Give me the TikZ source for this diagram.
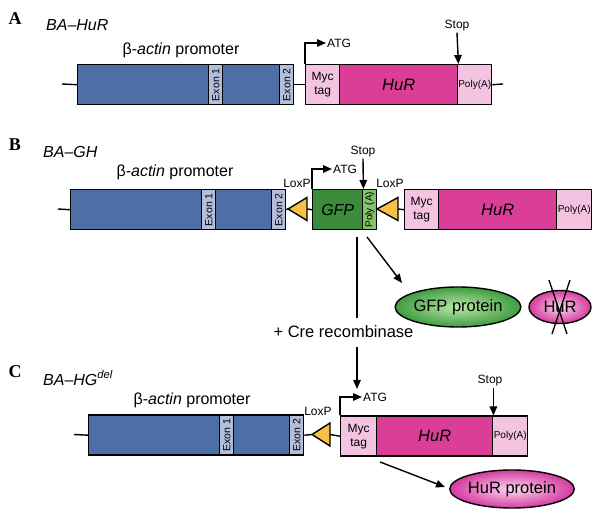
\documentclass[tikz,border=0pt]{standalone}
\usepackage{fontspec}
\setmainfont{Liberation Sans}
\newfontfamily\panelfont{Liberation Serif}
\usetikzlibrary{arrows.meta,shapes.geometric}
\definecolor{promblue}{HTML}{4E6EA6}
\definecolor{exongray}{HTML}{B3BFDA}
\definecolor{pinklight}{HTML}{F5C3E2}
\definecolor{hurmag}{HTML}{DB3E97}
\definecolor{gfpdark}{HTML}{3A8B3A}
\definecolor{gfplight}{HTML}{84C16B}
\definecolor{loxyellow}{HTML}{F7BF45}
\definecolor{gfpin}{HTML}{B8E8A8}
\definecolor{gfpout}{HTML}{3F9C3F}
\definecolor{hurin}{HTML}{FBD8F1}
\definecolor{hurout}{HTML}{D43A9E}
\begin{document}
\begin{tikzpicture}[x=1pt,y=-1pt,
  box/.style={draw, line width=1.4pt, inner sep=0pt, anchor=north west, minimum height=40pt},
  prom/.style={box, fill=promblue},
  exonbox/.style={box, fill=exongray, minimum width=14pt},
  myc/.style={box, fill=pinklight, minimum width=34pt, align=center, font=\fontsize{12}{14}\selectfont},
  hur/.style={box, fill=hurmag, font=\fontsize{16.5}{18}\selectfont\itshape},
  polya/.style={box, fill=pinklight, minimum width=34pt, font=\fontsize{10}{11}\selectfont},
  gfpbox/.style={box, fill=gfpdark, minimum width=50pt, font=\fontsize{16}{18}\selectfont\itshape},
  gfppoly/.style={box, fill=gfplight, minimum width=14pt},
  vtext/.style={rotate=90, inner sep=0pt, font=\fontsize{10.5}{12}\selectfont},
  conn/.style={line width=1.4pt},
  lox/.style={draw, line width=1.4pt, fill=loxyellow, line join=miter},
  arr/.style={line width=1.4pt, -{Triangle[length=9pt,width=7.5pt]}},
  small/.style={inner sep=1pt, font=\fontsize{12}{14}\selectfont},
  promlabel/.style={inner sep=0pt, font=\fontsize{16}{19}\selectfont},
  construct/.style={inner sep=0pt, anchor=west, font=\fontsize{16}{19}\selectfont\itshape},
  panel/.style={inner sep=0pt, font=\fontsize{18}{20}\selectfont\panelfont\bfseries},
  protein/.style={ellipse, draw, line width=1.4pt, inner sep=0pt, font=\fontsize{16.5}{19}\selectfont}
]
\useasboundingbox (0,0) rectangle (600,526);

% ---------------- Panel A ----------------
\node[panel] (pA) at (15,19) {A};
\node[construct] (nA) at (46,25) {BA–HuR};
\node[promlabel] (plA) at (181,50) {β-\textit{actin} promoter};
\node[prom, minimum width=216pt] (promA) at (77,64) {};
\node[exonbox] (ex1A) at (208,64) {};
\node[exonbox] (ex2A) at (279,64) {};
\node[vtext] at (ex1A.center) {Exon 1};
\node[vtext] at (ex2A.center) {Exon 2};
\node[myc] (mycA) at (305,64) {Myc\\tag};
\node[hur, minimum width=118pt] (hurA) at (339,64) {HuR};
\node[polya] (polyA) at (457,64) {Poly(A)};
\coordinate (lA) at (62,84);
\coordinate (rA) at (503,84);
\draw[conn] (lA) -- (promA.west);
\draw[conn] (promA.east) -- (mycA.west);
\draw[conn] (polyA.east) -- (rA);
\node[small, anchor=west] (atgA) at (326,43) {ATG};
\draw[arr] (mycA.north west) |- (atgA.west);
\node[small] (stopA) at (457,26) {Stop};
\draw[arr] (stopA.south) -- (hurA.north east);

% ---------------- Panel B ----------------
\node[panel] (pB) at (15,145) {B};
\node[construct] (nB) at (43,152) {BA–GH};
\node[promlabel] (plB) at (175,172) {β-\textit{actin} promoter};
\node[prom, minimum width=215pt] (promB) at (70,189) {};
\node[exonbox] (ex1B) at (201,189) {};
\node[exonbox] (ex2B) at (271,189) {};
\node[vtext] at (ex1B.center) {Exon 1};
\node[vtext] at (ex2B.center) {Exon 2};
\coordinate (lB) at (58,209);
\draw[conn] (lB) -- (promB.west);
% LoxP 1
\coordinate (t1tip) at (288,209);
\coordinate (t1base) at (307,209);
\draw[lox] (307,197.5) -- (t1tip) -- (307,220.5) -- cycle;
\node[gfpbox] (gfp) at (312,189) {GFP};
\node[gfppoly] (gpoly) at (362,189) {};
\node[vtext, font=\fontsize{10}{11}\selectfont] at (gpoly.center) {Poly (A)};
% LoxP 2
\coordinate (t2tip) at (377,209);
\coordinate (t2base) at (398,209);
\draw[lox] (398,197.5) -- (t2tip) -- (398,220.5) -- cycle;
\node[myc] (mycB) at (404,189) {Myc\\tag};
\node[hur, minimum width=118pt] (hurB) at (438,189) {HuR};
\node[polya, minimum width=35pt] (polyB) at (556,189) {Poly(A)};
\draw[conn] (ex2B.east) -- (t1tip);
\draw[conn] (t1base) -- (gfp.west);
\draw[conn] (gpoly.east) -- (t2tip);
\draw[conn] (t2base) -- (mycB.west);
\node[small] (lox1) at (297,183) {LoxP};
\node[small] (lox2) at (390,183) {LoxP};
\node[small, anchor=west] (atgB) at (332,169) {ATG};
\draw[arr] (gfp.north west) |- (atgB.west);
\node[small] (stopB) at (363,152) {Stop};
\draw[arr] (stopB.south) -- (gfp.north east);

% products of B
\node[protein, minimum width=124pt, minimum height=40pt, inner color=gfpin, outer color=gfpout] (gfpP) at (458,307) {GFP protein};
\node[protein, minimum width=62pt, minimum height=33pt, inner color=hurin, outer color=hurout] (hurX) at (560,307) {HuR};
\coordinate (x1a) at (549,280);
\coordinate (x1b) at (567,334);
\coordinate (x2a) at (570,280);
\coordinate (x2b) at (552,334);
\draw[line width=1.4pt] (x1a) -- (x1b);
\draw[line width=1.4pt] (x2a) -- (x2b);
\coordinate (dB) at (367,237);
\coordinate (dBend) at (402,283);
\draw[arr] (dB) -- (dBend);

% Cre
\coordinate (creTop) at (357,237);
\coordinate (creEnd) at (357,389);
\node[inner sep=0pt, font=\fontsize{16.5}{19}\selectfont] (cre) at (343.5,332) {+ Cre recombinase};
\draw[conn] (creTop) -- (creTop |- 0,318);
\draw[arr] (creTop |- 0,347) -- (creEnd);

% ---------------- Panel C ----------------
\node[panel] (pC) at (15,372) {C};
\node[construct] (nC) at (43,378) {BA–HG\textsuperscript{del}};
\node[promlabel] (plC) at (192,400) {β-\textit{actin} promoter};
\node[prom, minimum width=215pt] (promC) at (88,414.5) {};
\node[exonbox] (ex1C) at (219,414.5) {};
\node[exonbox] (ex2C) at (289,414.5) {};
\node[vtext] at (ex1C.center) {Exon 1};
\node[vtext] at (ex2C.center) {Exon 2};
\coordinate (lC) at (74,434.5);
\draw[conn] (lC) -- (promC.west);
\coordinate (t3tip) at (312,434.5);
\coordinate (t3base) at (330,434.5);
\draw[lox] (330,423) -- (t3tip) -- (330,446) -- cycle;
\node[myc, minimum width=36pt] (mycC) at (340,415.5) {Myc\\tag};
\node[hur, minimum width=116pt] (hurC) at (376,415.5) {HuR};
\node[polya, minimum width=35pt] (polyC) at (492,415.5) {Poly(A)};
\draw[conn] (ex2C.east) -- (t3tip);
\draw[conn] (t3base) -- (mycC.west);
\node[small] (lox3) at (318,411) {LoxP};
\node[small, anchor=west] (atgC) at (362,397) {ATG};
\draw[arr] (mycC.north west) |- (atgC.west);
\node[small] (stopC) at (490,381) {Stop};
\draw[arr] (stopC.south -| hurC.north east) -- (hurC.north east);

\node[protein, minimum width=124pt, minimum height=38pt, inner color=hurin, outer color=hurout] (hurP) at (512,489) {HuR protein};
\coordinate (dC) at (380,462);
\coordinate (dCend) at (445,487);
\draw[arr] (dC) -- (dCend);
\end{tikzpicture}
\end{document}
